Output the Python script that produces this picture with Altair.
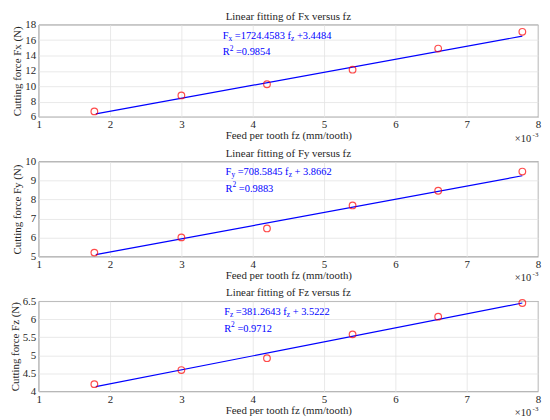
import altair as alt
import pandas as pd

# ---- data ----
fz = [1.78, 3.0, 4.2, 5.4, 6.6, 7.78]            # feed per tooth (x 10^-3 mm/tooth)
fx_vals = [6.72, 8.80, 10.25, 12.15, 14.90, 17.08]
fy_vals = [5.21, 6.01, 6.48, 7.69, 8.46, 9.47]
fzf_vals = [4.20, 4.59, 4.92, 5.58, 6.07, 6.45]

fit_fz = [1.80, 7.78]
fit_fx = [6.40, 16.52]
fit_fy = [5.10, 9.25]
fit_fzf = [4.13, 6.45]

titles = ["Linear fitting of Fx versus fz", "Linear fitting of Fy versus fz", "Linear fitting of Fz versus fz"]
y_titles = ["Cutting force Fx (N)", "Cutting force Fy (N)", "Cutting force Fz (N)"]
x_title = "Feed per tooth fz (mm/tooth)"
x_ticks = [1, 2, 3, 4, 5, 6, 7, 8]
y_domains = [[6, 18], [5, 10], [4, 6.5]]
y_ticks = [[6, 8, 10, 12, 14, 16, 18], [5, 6, 7, 8, 9, 10], [4, 4.5, 5, 5.5, 6, 6.5]]
eq_subs = ["x", "y", "z"]
eq_coefs = ["=1724.4583 f", "=708.5845 f", "=381.2643 f"]
eq_tails = ["+3.4484", "+ 3.8662", "+ 3.5222"]
r2_vals = ["=0.9854", "=0.9883", "=0.9712"]
eq_pos = [3.58, 3.62, 3.60]   # x position (in fz units) where the equation starts

FONT = "Liberation Serif"
W = 504
HS = [93, 96, 91]
BLUE = "#0000ff"
INK = "#262626"

# Times metrics (per em) for placing the equation pieces
TW = {**{d: 0.5 for d in "0123456789"}, ".": 0.25, " ": 0.25, "=": 0.564, "+": 0.564,
      "F": 0.556, "R": 0.667, "f": 0.333, "x": 0.5, "y": 0.5, "z": 0.444, "2": 0.5, "-": 0.333}


def tw(s, size):
    return sum(TW.get(c, 0.5) for c in s) * size


def text_layer(txt, x, y, size, dy=0, align="left", color=BLUE):
    return alt.Chart(alt.Data(values=[{"t": txt}])).mark_text(
        x=x, y=y, dy=dy, align=align, baseline="middle", font=FONT,
        fontSize=size, color=color
    ).encode(text="t:N")


def pieces(parts, x0, y, main=10.5, sub=7.5):
    layers = []
    x = x0
    for txt, kind in parts:
        size = main if kind == "m" else sub
        dy = 3 if kind == "sub" else (-4 if kind == "sup" else 0)
        stripped = txt.lstrip(" ")
        x += tw(txt[: len(txt) - len(stripped)], size)
        layers.append(text_layer(stripped, x, y, size, dy=dy))
        x += tw(stripped, size)
    return layers


def panel(i, yvals, fitvals):
    H = HS[i]
    df = pd.DataFrame({"fz": fz, "F": yvals})
    dfl = pd.DataFrame({"fz": fit_fz, "F": fitvals})
    xenc = alt.X("fz:Q", scale=alt.Scale(domain=[1, 8], nice=False),
                 axis=alt.Axis(values=x_ticks, title=x_title, format="d",
                               labelOverlap=False, labelFlush=False))
    yenc = alt.Y("F:Q", scale=alt.Scale(domain=y_domains[i], nice=False, zero=False),
                 axis=alt.Axis(values=y_ticks[i], title=y_titles[i], format="~f",
                               labelOverlap=False, labelFlush=False))
    line = alt.Chart(dfl).mark_line(color=BLUE, strokeWidth=1.2).encode(x=xenc, y=yenc)
    pts = alt.Chart(df).mark_point(shape="circle", filled=False, color="#ff0000",
                                   size=45, strokeWidth=1.2).encode(x=xenc, y=yenc)
    x0 = (eq_pos[i] - 1) / 7 * W
    y1 = 11
    y2 = y1 + 17
    eq1 = pieces([("F", "m"), (eq_subs[i], "sub"), (" " + eq_coefs[i], "m"), ("z", "sub"),
                  (" " + eq_tails[i], "m")], x0, y1)
    eq2 = pieces([("R", "m"), ("2", "sup"), (" " + r2_vals[i], "m")], x0, y2)
    x10 = [text_layer("×10", W - 7, H + 22, 10.5, align="right", color=INK),
           text_layer("-3", W - 5.5, H + 18, 7, color=INK)]
    ttl = text_layer(titles[i], W / 2, -8, 11, align="center", color=INK)
    return alt.layer(line, pts, *eq1, *eq2, *x10, ttl).properties(width=W, height=H)


chart = alt.vconcat(
    panel(0, fx_vals, fit_fx),
    panel(1, fy_vals, fit_fy),
    panel(2, fzf_vals, fit_fzf),
    spacing=2,
).properties(padding={"left": 0, "top": 0, "right": 0, "bottom": 0}).configure(
    font=FONT
).configure_view(
    stroke="#4d4d4d", strokeWidth=0.8
).configure_axis(
    labelFont=FONT, titleFont=FONT, labelFontSize=11, titleFontSize=11,
    labelColor=INK, titleColor=INK, titleFontWeight="normal",
    grid=True, gridColor="#e3e3e3", gridWidth=0.8, domain=False, ticks=False,
    tickSize=0
).configure_axisX(labelPadding=2, titlePadding=0).configure_axisY(
    labelPadding=3, titlePadding=2
)

chart.save("out.html", embed_options={"renderer": "svg", "actions": False})
